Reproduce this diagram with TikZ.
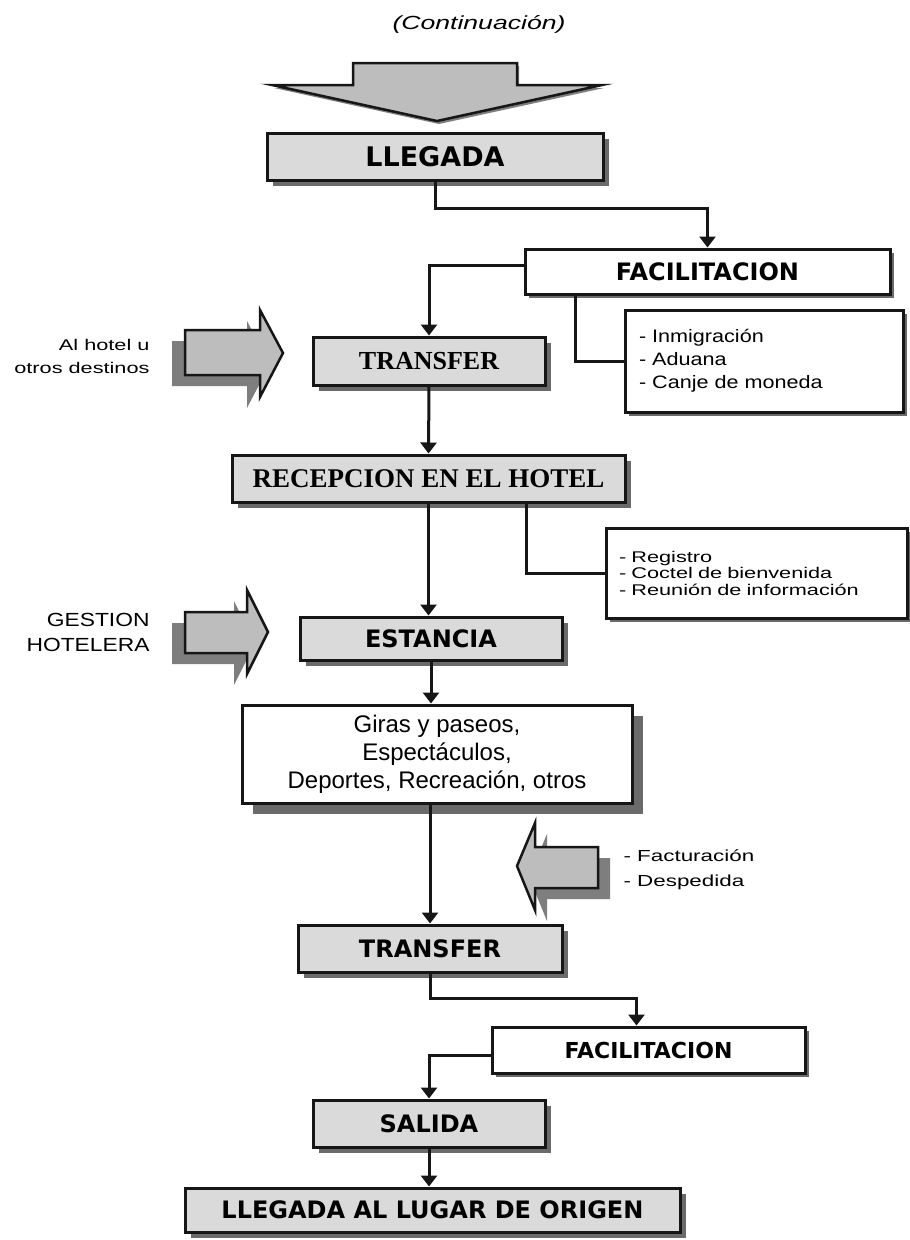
\documentclass[tikz,border=0pt]{standalone}
\usepackage{fontspec}
\usetikzlibrary{arrows.meta,shadows}
\newfontfamily\hdsans{DejaVu Sans}
\newfontfamily\hdserif{Liberation Serif}
\newfontfamily\txtsans{Liberation Sans}
\newfontfamily\midsans{Liberation Sans}[FakeStretch=1.2]
\newfontfamily\widesans{Liberation Sans}[FakeStretch=1.4]
\definecolor{ink}{HTML}{161616}
\definecolor{boxgrey}{HTML}{DADADA}
\definecolor{shade}{HTML}{6A6A6A}
\definecolor{arrowgrey}{HTML}{BDBDBD}
\definecolor{arrowshade}{HTML}{7E7E7E}

\begin{document}
\begin{tikzpicture}[x=1pt,y=-1pt,>={Triangle[width=16pt,length=11pt]},
 box/.style={draw=ink,line width=3pt,inner sep=0pt,minimum height=47pt},
 sd/.style={drop shadow={shadow xshift=#1,shadow yshift=-#1,fill=shade,opacity=1}},
 sd/.default=6pt,
 gbox/.style={box,fill=boxgrey,sd},
 wbox/.style={box,fill=white,sd=4pt},
 hd/.style={font=\hdsans\bfseries\fontsize{24}{26}\selectfont},
 hs/.style={font=\hdserif\bfseries\fontsize{26}{28}\selectfont},
 ln/.style={draw=ink,line width=3pt},
 ar/.style={ln,->},
 blk/.style={fill=arrowgrey,draw=ink,line width=2.5pt,line join=miter},
 shl/.style={drop shadow={shadow xshift=-13pt,shadow yshift=-11pt,fill=arrowshade,opacity=1}},
 shr/.style={drop shadow={shadow xshift=12pt,shadow yshift=-11pt,fill=arrowshade,opacity=1}}]
 \fill[white] (0,0) rectangle (910,1240);
 \useasboundingbox (0,0) rectangle (910,1240);

 \node (title) at (479,24) {\widesans\itshape\fontsize{19}{20}\selectfont (Continuación)};

 % big entry arrow
 \filldraw[blk,drop shadow={shadow xshift=2pt,shadow yshift=-3pt,fill=arrowshade,opacity=1}]
  (353,63) -- (517,63) -- (517,85) -- (602,85) -- (437,121) -- (272,85) -- (353,85) -- cycle;

 % main column
 \node[gbox,hd,minimum width=336pt,font=\hdsans\bfseries\fontsize{27}{29}\selectfont] (llegada) at (435,156.5) {LLEGADA};
 \node[wbox,hd,minimum width=365pt,minimum height=45pt] (facil) at (707.5,271.5) {FACILITACION};
 \node[gbox,hs,minimum width=232pt,minimum height=48pt] (transfer) at (429,361) {TRANSFER};
 \node[wbox,minimum width=278pt,minimum height=102pt,text width=250pt,align=left,inner xsep=14pt,
  font=\midsans\fontsize{18}{23}\selectfont] (listaf) at (764,361) {- Inmigración\\- Aduana\\- Canje de moneda};
 \node[gbox,hs,minimum width=393pt,font=\hdserif\bfseries\fontsize{27}{29}\selectfont] (recep) at (428.5,478.5) {RECEPCION EN EL HOTEL};
 \node[wbox,minimum width=301pt,minimum height=90pt,text width=275pt,align=left,inner xsep=13pt,
  font=\widesans\fontsize{15.5}{16.5}\selectfont] (listar) at (756.5,573) {- Registro\\- Coctel de bienvenida\\- Reunión de información};
 \node[gbox,hd,minimum width=262pt,minimum height=43pt] (estancia) at (431,638.5) {ESTANCIA};
 \node[box,fill=white,sd=11pt,minimum width=390pt,minimum height=98pt,align=center,
  font=\txtsans\fontsize{24}{28}\selectfont] (giras) at (437,754) {Giras y paseos,\\Espectáculos,\\Deportes, Recreación, otros};
 \node[gbox,hd,minimum width=264pt] (transferb) at (430,948.5) {TRANSFER};
 \node[wbox,hd,minimum width=313pt,minimum height=46pt,font=\hdsans\bfseries\fontsize{22}{24}\selectfont] (facilb) at (648.5,1050) {FACILITACION};
 \node[gbox,hd,minimum width=232pt] (salida) at (429,1123.5) {SALIDA};
 \node[gbox,hd,minimum width=495pt,minimum height=44pt] (origen) at (432.5,1210) {LLEGADA AL LUGAR DE ORIGEN};

 % side arrows
 \filldraw[blk,shl] (185,330) -- (260,330) -- (260,310) -- (283,353) -- (260,397) -- (260,375) -- (185,375) -- cycle;
 \node[anchor=east,align=right,font=\widesans\fontsize{15.5}{23}\selectfont] (lblhotel) at (153,356) {Al hotel u\\otros destinos};
 \filldraw[blk,shl] (185,612) -- (247,612) -- (247,590) -- (268,632) -- (247,674) -- (247,653) -- (185,653) -- cycle;
 \node[anchor=east,align=right,font=\midsans\fontsize{19}{25}\selectfont] (lblgestion) at (153,632) {GESTION\\HOTELERA};
 \filldraw[blk,shr] (598,847) -- (535,847) -- (535,823) -- (517,866) -- (535,910) -- (535,888) -- (598,888) -- cycle;
 \node[anchor=west,align=left,font=\widesans\fontsize{16}{25}\selectfont] (lblfact) at (620,870) {- Facturación\\- Despedida};

 % connectors
 \draw[ar] (llegada.south) -- ++(0,27) -| (facil.north);
 \draw[ar] ([yshift=6pt]facil.west) -| (transfer.north);
 \draw[ln] ([xshift=-132pt]facil.south) |- (listaf.west);
 \draw[ar] (transfer.south) -- (recep.north);
 \draw[ln] ([xshift=98pt]recep.south) |- (listar.west);
 \draw[ar] (recep.south) -- (recep.south |- estancia.north);
 \draw[ar] (estancia.south) -- (estancia.south |- giras.north);
 \draw[ar] (transferb.north |- giras.south) -- (transferb.north);
 \draw[ar] (transferb.south) -- ++(0,25) -| ([xshift=-12pt]facilb.north);
 \draw[ar] ([yshift=-5pt]facilb.west) -| (salida.north);
 \draw[ar] (salida.south) -- (salida.south |- origen.north);
\end{tikzpicture}
\end{document}
